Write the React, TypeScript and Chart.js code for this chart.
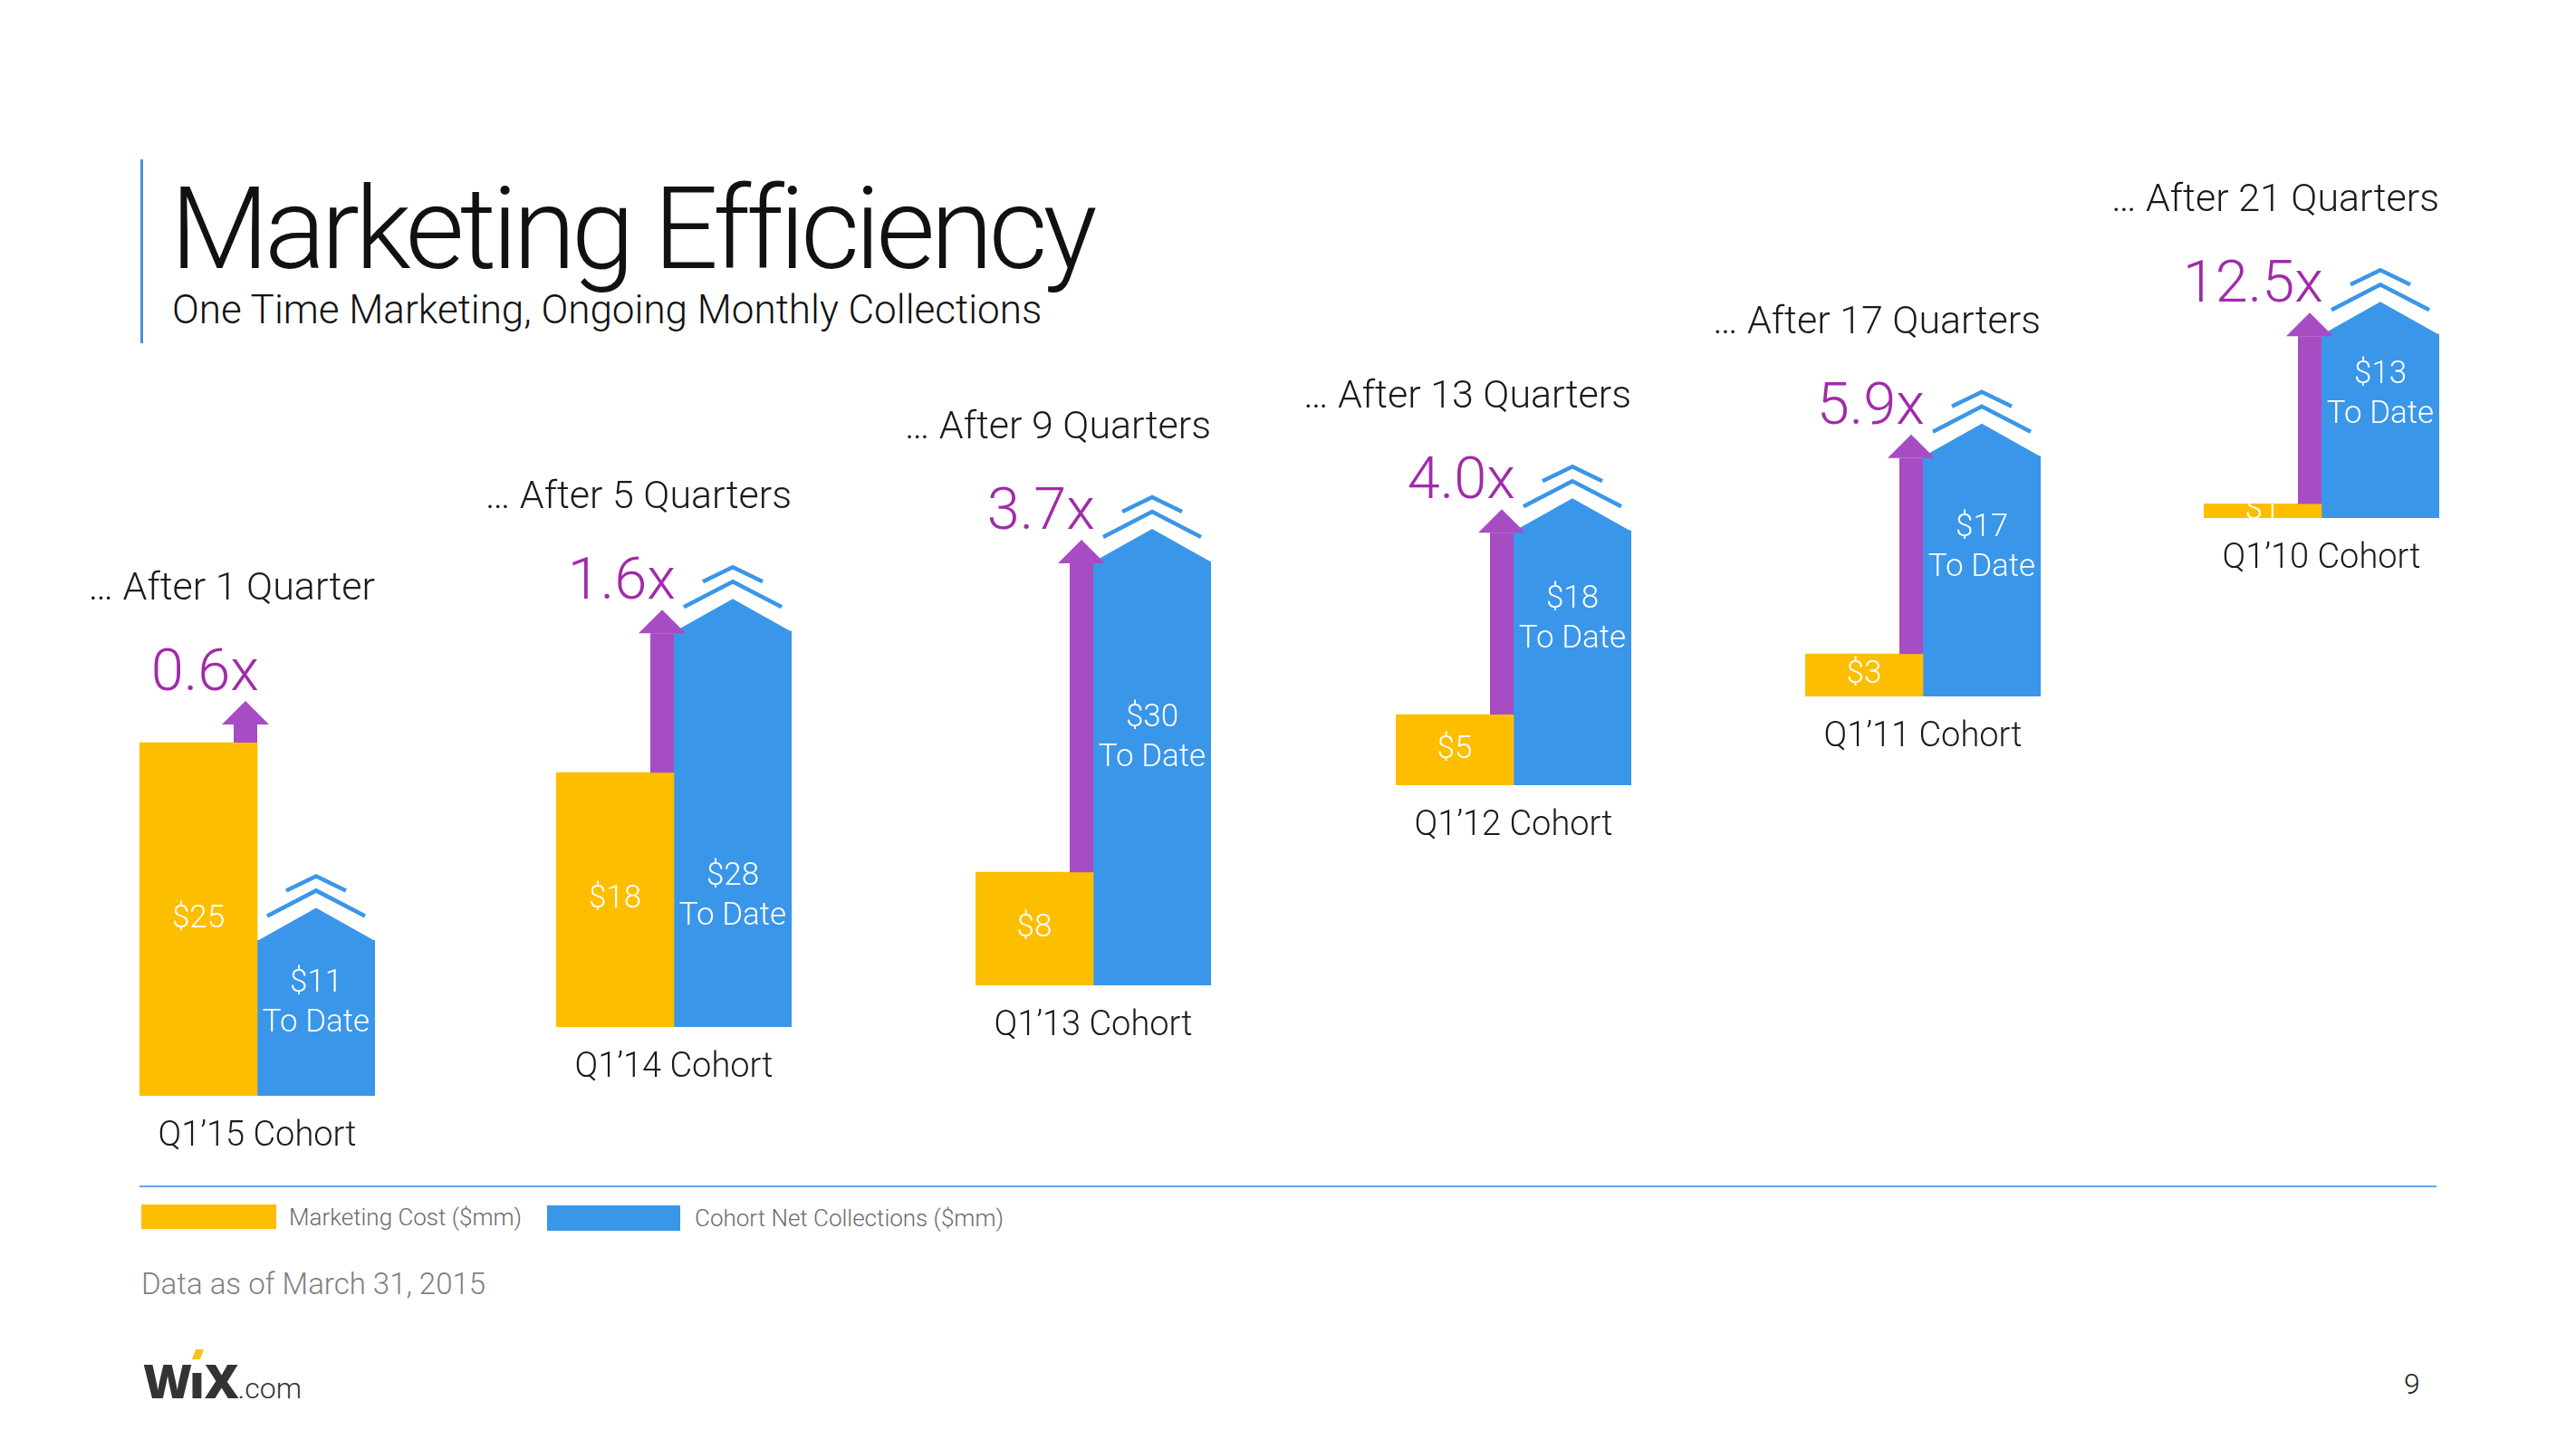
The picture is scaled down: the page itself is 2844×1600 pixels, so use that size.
import React, { useEffect, useRef } from "react";
import { Chart, registerables } from "chart.js";

Chart.register(...registerables);

// ---------------- data ----------------
const cohortLabels = ["Q1’15 Cohort", "Q1’14 Cohort", "Q1’13 Cohort", "Q1’12 Cohort", "Q1’11 Cohort", "Q1’10 Cohort"];
const periodLabels = ["… After 1 Quarter", "… After 5 Quarters", "… After 9 Quarters", "… After 13 Quarters", "… After 17 Quarters", "… After 21 Quarters"];
const marketingCost = [25, 18, 8, 5, 3, 1];
const netCollections = [11, 28, 30, 18, 17, 13];
const multiples = ["0.6x", "1.6x", "3.7x", "4.0x", "5.9x", "12.5x"];
const seriesNames = ["Marketing Cost ($mm)", "Cohort Net Collections ($mm)"];

// ---------------- style / layout ----------------
const YELLOW = "#FDBE00";
const BLUE = "#3A96E9";
const PURPLE_ARROW = "#A64DC4";
const PURPLE_TEXT = "#A02BAA";
const FONT = "Roboto, 'Helvetica Neue', Arial, sans-serif";

const PX_PER_UNIT = 15.6;
const Y_MAX = 40;
const AREA_H = Y_MAX * PX_PER_UNIT;
const PAD_L = 150;
const PAD_R = 30;
const PAD_T = 60;
const PAD_B = 90;
const AREA_W = 260;
const CW = PAD_L + AREA_W + PAD_R;
const CH = PAD_T + AREA_H + PAD_B;

// group left edge, baseline (page px) and label placement per cohort
const LAYOUT = [
  { left: 154, base: 1210, labelFrac: 0.28 },
  { left: 614, base: 1134, labelFrac: 0.62 },
  { left: 1077, base: 1088, labelFrac: 0.37 },
  { left: 1541, base: 867, labelFrac: 0.27 },
  { left: 1993, base: 769, labelFrac: 0.3 },
  { left: 2433, base: 572, labelFrac: 0.22 },
];

function makeOverlay(i: number) {
  return {
    id: "cohortOverlay" + i,
    afterDatasetsDraw(chart: any) {
      const ctx: CanvasRenderingContext2D = chart.ctx;
      const yb: any = chart.getDatasetMeta(0).data[0];
      const bb: any = chart.getDatasetMeta(1).data[0];
      if (!yb || !bb) return;
      const yl = yb.x - yb.width / 2;
      const yTop = yb.y;
      const base = yb.base;
      const bl = bb.x - bb.width / 2;
      const br = bb.x + bb.width / 2;
      const bc = bb.x;
      const bTop = bb.y;
      const boundary = bl;
      ctx.save();

      // roof on blue bar
      ctx.fillStyle = BLUE;
      ctx.beginPath();
      ctx.moveTo(bl, bTop + 0.5);
      ctx.lineTo(bc, bTop - 36);
      ctx.lineTo(br, bTop + 0.5);
      ctx.closePath();
      ctx.fill();

      // chevrons
      ctx.strokeStyle = BLUE;
      ctx.lineWidth = 4.5;
      ctx.lineJoin = "miter";
      ctx.beginPath();
      ctx.moveTo(bc - 54, bTop - 27);
      ctx.lineTo(bc, bTop - 55);
      ctx.lineTo(bc + 54, bTop - 27);
      ctx.stroke();
      ctx.beginPath();
      ctx.moveTo(bc - 33, bTop - 55);
      ctx.lineTo(bc, bTop - 71);
      ctx.lineTo(bc + 33, bTop - 55);
      ctx.stroke();

      // purple arrow
      const headBase = Math.min(bTop + 2, yTop - 20);
      const shaftW = 26;
      const ax = boundary - shaftW / 2;
      const apex = headBase - 26;
      ctx.fillStyle = PURPLE_ARROW;
      ctx.fillRect(boundary - shaftW, headBase, shaftW, yTop - headBase);
      ctx.beginPath();
      ctx.moveTo(ax - 26, headBase);
      ctx.lineTo(ax, apex);
      ctx.lineTo(ax + 26, headBase);
      ctx.closePath();
      ctx.fill();

      // multiple
      const multBase = apex - 12;
      ctx.fillStyle = PURPLE_TEXT;
      ctx.font = `300 65px ${FONT}`;
      ctx.textAlign = "right";
      ctx.textBaseline = "alphabetic";
      ctx.fillText(multiples[i], boundary + 2, multBase);

      // period label
      ctx.fillStyle = "#1a1a1a";
      ctx.font = `300 43px ${FONT}`;
      ctx.textAlign = "right";
      ctx.fillText(periodLabels[i], br, multBase - 100);

      // cohort label
      ctx.font = `300 38px ${FONT}`;
      ctx.textAlign = "center";
      ctx.fillText(cohortLabels[i], boundary, base + 55);

      // value labels
      ctx.fillStyle = "#ffffff";
      ctx.font = `300 35px ${FONT}`;
      ctx.textAlign = "center";
      ctx.textBaseline = "middle";
      ctx.fillText("$" + marketingCost[i], (yl + boundary) / 2, (yTop + base) / 2);
      const bh = base - bTop;
      const ly = bTop + LAYOUT[i].labelFrac * bh;
      ctx.fillText("$" + netCollections[i], bc, ly);
      ctx.fillText("To Date", bc, ly + 44);
      ctx.restore();
    },
  };
}

function CohortChart({ i }: { i: number }) {
  const ref = useRef<HTMLCanvasElement>(null);
  useEffect(() => {
    const chart = new Chart(ref.current as HTMLCanvasElement, {
      type: "bar",
      data: {
        labels: [cohortLabels[i]],
        datasets: [
          {
            label: seriesNames[0],
            data: [marketingCost[i]],
            backgroundColor: YELLOW,
            borderWidth: 0,
            barPercentage: 1,
            categoryPercentage: 1,
          },
          {
            label: seriesNames[1],
            data: [netCollections[i]],
            backgroundColor: BLUE,
            borderWidth: 0,
            barPercentage: 1,
            categoryPercentage: 1,
          },
        ],
      },
      options: {
        responsive: false,
        maintainAspectRatio: false,
        animation: false,
        events: [],
        layout: { padding: { left: PAD_L, right: PAD_R, top: PAD_T, bottom: PAD_B } },
        scales: {
          x: { display: false },
          y: { display: false, min: 0, max: Y_MAX },
        },
        plugins: { legend: { display: false }, tooltip: { enabled: false } },
      },
      plugins: [makeOverlay(i)],
    } as any);
    return () => chart.destroy();
  }, [i]);
  const L = LAYOUT[i];
  return (
    <canvas
      ref={ref}
      width={CW}
      height={CH}
      style={{ position: "absolute", left: L.left - PAD_L, top: L.base - PAD_T - AREA_H, width: CW, height: CH }}
    />
  );
}

const abs = (o: React.CSSProperties): React.CSSProperties => ({ position: "absolute", ...o });

export default function App() {
  return (
    <div
      style={{
        position: "absolute",
        left: 0,
        top: 0,
        width: 2844,
        height: 1600,
        background: "#ffffff",
        overflow: "hidden",
        fontFamily: FONT,
      }}
    >
      {/* title block */}
      <div style={abs({ left: 155, top: 176, width: 3, height: 203, background: "#4A90D9" })} />
      <div style={abs({ left: 188, top: 190, fontSize: 126, fontWeight: 300, lineHeight: 1, color: "#111", whiteSpace: "nowrap", letterSpacing: -5 })}>
        Marketing Efficiency
      </div>
      <div style={abs({ left: 190, top: 320, fontSize: 44, fontWeight: 300, lineHeight: 1, color: "#111", whiteSpace: "nowrap" })}>
        One Time Marketing, Ongoing Monthly Collections
      </div>

      {cohortLabels.map((_, i) => (
        <CohortChart key={i} i={i} />
      ))}

      {/* divider + legend */}
      <div style={abs({ left: 154, top: 1309, width: 2536, height: 2, background: "#6AA3DA" })} />
      <div style={abs({ left: 156, top: 1330, width: 149, height: 27, background: YELLOW })} />
      <div style={abs({ left: 319, top: 1331, fontSize: 26, fontWeight: 300, lineHeight: 1, color: "#6b6b6b", whiteSpace: "nowrap" })}>
        {seriesNames[0]}
      </div>
      <div style={abs({ left: 604, top: 1331, width: 147, height: 28, background: BLUE })} />
      <div style={abs({ left: 767, top: 1332, fontSize: 26, fontWeight: 300, lineHeight: 1, color: "#6b6b6b", whiteSpace: "nowrap" })}>
        {seriesNames[1]}
      </div>
      <div style={abs({ left: 156, top: 1401, fontSize: 33, fontWeight: 300, lineHeight: 1, color: "#808080", whiteSpace: "nowrap" })}>
        Data as of March 31, 2015
      </div>

      {/* logo */}
      <div style={abs({ left: 158, top: 1498, height: 56, whiteSpace: "nowrap", color: "#333" })}>
        <span style={{ fontFamily: "'Open Sans', sans-serif", fontWeight: 800, fontSize: 52, letterSpacing: -3, lineHeight: 1 }}>W</span>
        <span style={{ position: "relative", fontFamily: "'Open Sans', sans-serif", fontWeight: 800, fontSize: 52, lineHeight: 1 }}>
          ı
          <span style={{ position: "absolute", left: 5, top: 2, width: 9, height: 11, background: "#F7C31B", transform: "skewX(-20deg)" }} />
        </span>
        <span style={{ fontFamily: "'Open Sans', sans-serif", fontWeight: 800, fontSize: 52, letterSpacing: -1, lineHeight: 1 }}>X</span>
        <span style={{ fontFamily: FONT, fontWeight: 300, fontSize: 32, lineHeight: 1 }}>.com</span>
      </div>

      {/* page number */}
      <div style={abs({ left: 2654, top: 1512, fontSize: 32, fontWeight: 300, lineHeight: 1, color: "#222" })}>9</div>
    </div>
  );
}
